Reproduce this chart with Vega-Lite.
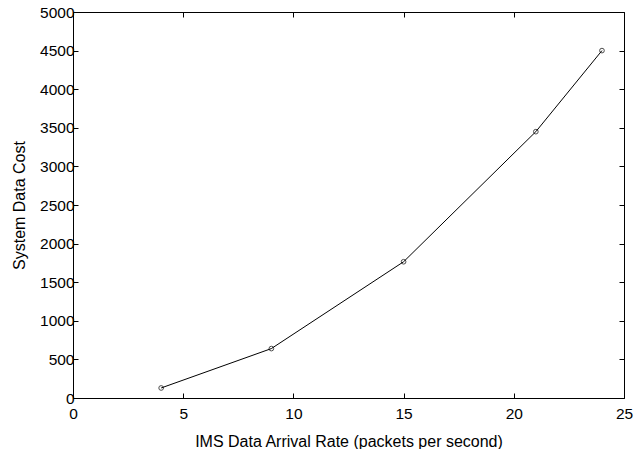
{
  "$schema": "https://vega.github.io/schema/vega-lite/v6.json",
  "width": 551,
  "height": 386,
  "autosize": {"type": "none"},
  "padding": {"left": 73, "top": 12, "right": 10, "bottom": 51},
  "background": "white",
  "config": {
    "view": {"stroke": null},
    "axis": {
      "domainColor": "black",
      "domainWidth": 1,
      "tickColor": "black",
      "tickSize": -5,
      "grid": false,
      "format": "d",
      "labelFont": "Liberation Sans",
      "labelFontSize": 15.5,
      "labelColor": "black",
      "titleFont": "Liberation Sans",
      "titleFontSize": 16,
      "titleFontWeight": "normal",
      "titleColor": "black"
    }
  },
  "data": {
    "values": [
      {"rate": 4, "cost": 130},
      {"rate": 9, "cost": 640},
      {"rate": 15, "cost": 1765},
      {"rate": 21, "cost": 3450},
      {"rate": 24, "cost": 4500}
    ]
  },
  "resolve": {"axis": {"x": "independent", "y": "independent"}},
  "layer": [
    {
      "mark": {"type": "line", "color": "black", "strokeWidth": 1},
      "encoding": {
        "x": {
          "field": "rate", "type": "quantitative",
          "scale": {"domain": [0, 25], "nice": false, "zero": false},
          "axis": {"values": [0, 5, 10, 15, 20, 25], "title": "IMS Data Arrival Rate (packets per second)", "labelPadding": 13, "titlePadding": 12, "labelFlush": false}
        },
        "y": {
          "field": "cost", "type": "quantitative",
          "scale": {"domain": [0, 5000], "nice": false},
          "axis": {"values": [0,500,1000,1500,2000,2500,3000,3500,4000,4500,5000], "title": "System Data Cost", "labelPadding": 4, "titlePadding": 12, "labelFlush": false}
        }
      }
    },
    {
      "mark": {"type": "point", "shape": "circle", "color": "black", "filled": false, "size": 22, "strokeWidth": 1},
      "encoding": {
        "x": {
          "field": "rate", "type": "quantitative",
          "scale": {"domain": [0, 25], "nice": false, "zero": false},
          "axis": {"orient": "top", "values": [0, 5, 10, 15, 20, 25], "labels": false, "title": null}
        },
        "y": {
          "field": "cost", "type": "quantitative",
          "scale": {"domain": [0, 5000], "nice": false},
          "axis": {"orient": "right", "values": [0,500,1000,1500,2000,2500,3000,3500,4000,4500,5000], "labels": false, "title": null}
        }
      }
    }
  ]
}
